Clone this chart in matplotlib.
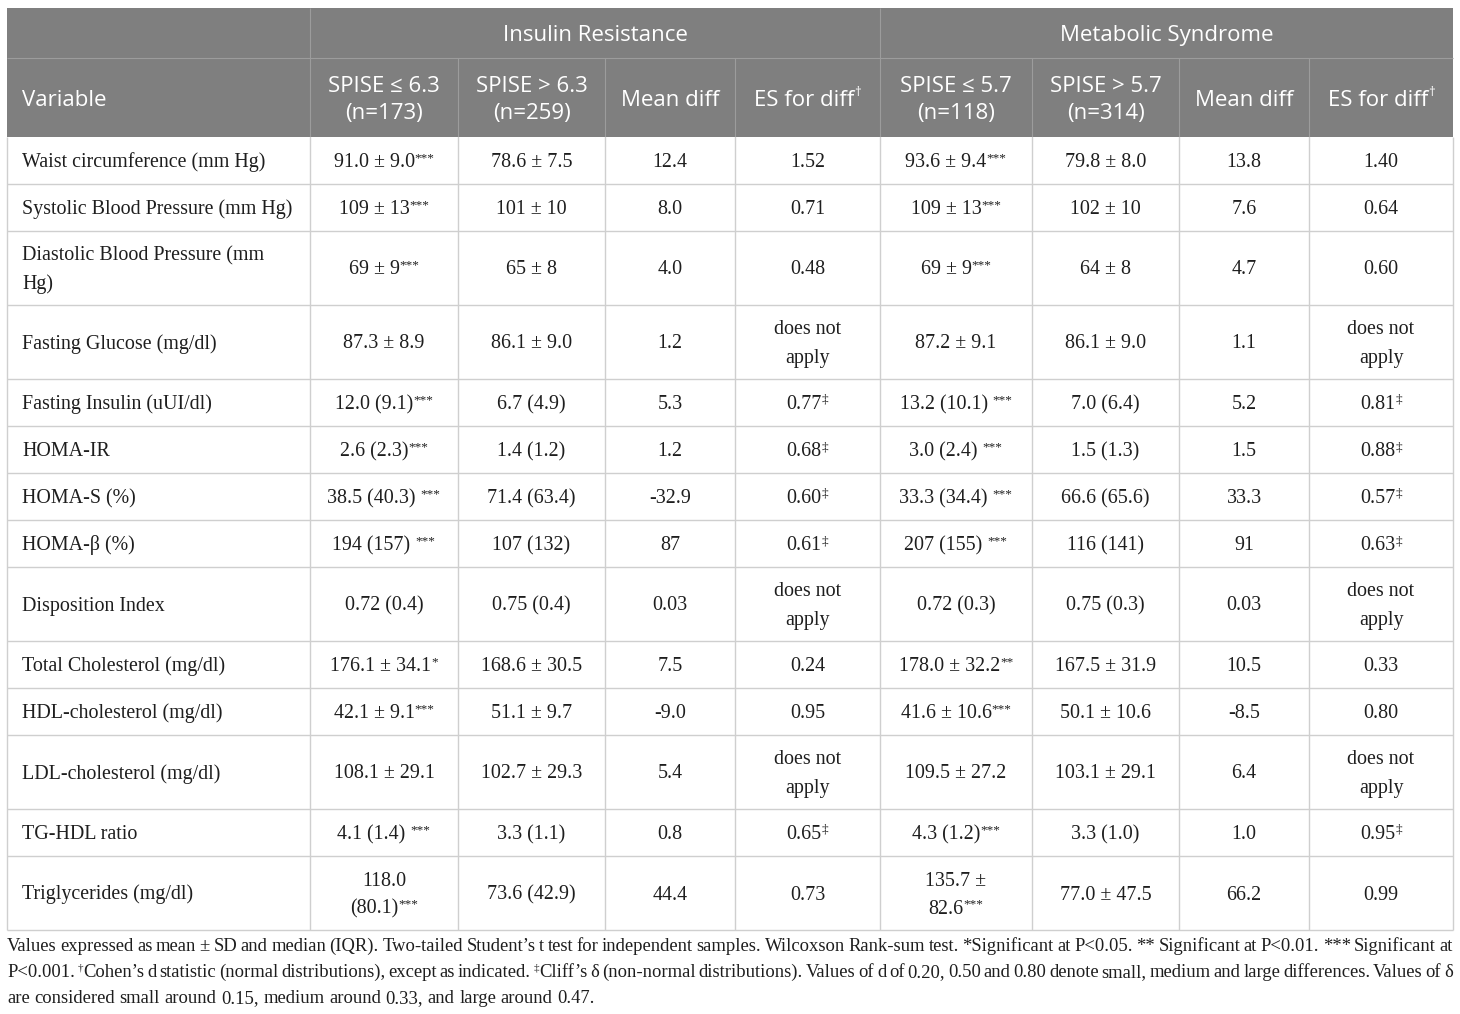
import re
import matplotlib.pyplot as plt

# ---- data ----
group_labels = ['Insulin Resistance', 'Metabolic Syndrome']
col_headers = ['Variable', 'SPISE ≤ 6.3\n(n=173)', 'SPISE > 6.3\n(n=259)', 'Mean diff', 'ES for diff†',
               'SPISE ≤ 5.7\n(n=118)', 'SPISE > 5.7\n(n=314)', 'Mean diff', 'ES for diff†']

variables = ['Waist circumference (mm Hg)', 'Systolic Blood Pressure (mm Hg)',
             'Diastolic Blood Pressure (mm\nHg)', 'Fasting Glucose (mg/dl)', 'Fasting Insulin (uUI/dl)',
             'HOMA-IR', 'HOMA-S (%)', 'HOMA-β (%)', 'Disposition Index', 'Total Cholesterol (mg/dl)',
             'HDL-cholesterol (mg/dl)', 'LDL-cholesterol (mg/dl)', 'TG-HDL ratio', 'Triglycerides (mg/dl)']

ir_low = ['91.0 ± 9.0***', '109 ± 13***', '69 ± 9***', '87.3 ± 8.9', '12.0 (9.1)***', '2.6 (2.3)***',
          '38.5 (40.3) ***', '194 (157) ***', '0.72 (0.4)', '176.1 ± 34.1*', '42.1 ± 9.1***',
          '108.1 ± 29.1', '4.1 (1.4) ***', '118.0\n(80.1)***']
ir_high = ['78.6 ± 7.5', '101 ± 10', '65 ± 8', '86.1 ± 9.0', '6.7 (4.9)', '1.4 (1.2)', '71.4 (63.4)',
           '107 (132)', '0.75 (0.4)', '168.6 ± 30.5', '51.1 ± 9.7', '102.7 ± 29.3', '3.3 (1.1)', '73.6 (42.9)']
ir_diff = ['12.4', '8.0', '4.0', '1.2', '5.3', '1.2', '-32.9', '87', '0.03', '7.5', '-9.0', '5.4', '0.8', '44.4']
ir_es = ['1.52', '0.71', '0.48', 'does not\napply', '0.77‡', '0.68‡', '0.60‡', '0.61‡', 'does not\napply',
         '0.24', '0.95', 'does not\napply', '0.65‡', '0.73']

ms_low = ['93.6 ± 9.4***', '109 ± 13***', '69 ± 9***', '87.2 ± 9.1', '13.2 (10.1) ***', '3.0 (2.4) ***',
          '33.3 (34.4) ***', '207 (155) ***', '0.72 (0.3)', '178.0 ± 32.2**', '41.6 ± 10.6***',
          '109.5 ± 27.2', '4.3 (1.2)***', '135.7 ±\n82.6***']
ms_high = ['79.8 ± 8.0', '102 ± 10', '64 ± 8', '86.1 ± 9.0', '7.0 (6.4)', '1.5 (1.3)', '66.6 (65.6)',
           '116 (141)', '0.75 (0.3)', '167.5 ± 31.9', '50.1 ± 10.6', '103.1 ± 29.1', '3.3 (1.0)', '77.0 ± 47.5']
ms_diff = ['13.8', '7.6', '4.7', '1.1', '5.2', '1.5', '33.3', '91', '0.03', '10.5', '-8.5', '6.4', '1.0', '66.2']
ms_es = ['1.40', '0.64', '0.60', 'does not\napply', '0.81‡', '0.88‡', '0.57‡', '0.63‡', 'does not\napply',
         '0.33', '0.80', 'does not\napply', '0.95‡', '0.99']

footnote = [
    'Values expressed as mean ± SD and median (IQR). Two-tailed Student’s t test for independent samples. '
    'Wilcoxson Rank-sum test. *Significant at P<0.05. ** Significant at P<0.01. *** Significant at',
    'P<0.001. †Cohen’s d statistic (normal distributions), except as indicated. ‡Cliff’s δ (non-normal '
    'distributions). Values of d of 0.20, 0.50 and 0.80 denote small, medium and large differences. Values of δ',
    'are considered small around 0.15, medium around 0.33, and large around 0.47.',
]

columns = [variables, ir_low, ir_high, ir_diff, ir_es, ms_low, ms_high, ms_diff, ms_es]

# ---- layout ----
W, H = 1460, 1014
col_x = [7, 310, 458, 605, 735, 880, 1032, 1179, 1309, 1453]
head_top, head_mid, head_bot = 8, 58, 137
row_h1, row_h2 = 47, 74

HEAD_BG = '#7f7f7f'
HEAD_LINE = '#9c9c9c'
GRID = '#cfcfcf'
TXT = '#1e1e1e'
SERIF = 'Liberation Serif'
SANS = 'Open Sans'

fig = plt.figure(figsize=(W / 100, H / 100), dpi=100)
ax = fig.add_axes([0, 0, 1, 1])
ax.set_xlim(0, W)
ax.set_ylim(H, 0)
ax.axis('off')
renderer = fig.canvas.get_renderer()


def measure(s, family, size):
    if s == ' ':
        return measure('a a', family, size) - measure('aa', family, size)
    t = ax.text(0, 0, s, family=family, fontsize=size)
    w = t.get_window_extent(renderer).width
    t.remove()
    return w


def draw_parts(x, y, parts, ha, family, size, color, sup_size, sup_rise):
    # parts: list of (text, is_sup); y is baseline
    widths = [measure(p, family, sup_size if sup else size) for p, sup in parts]
    total = sum(widths)
    if ha == 'center':
        x = x - total / 2
    for (p, sup), w in zip(parts, widths):
        if p.strip():
            ax.text(x, y - (sup_rise if sup else 0), p, family=family,
                    fontsize=sup_size if sup else size, color=color, ha='left', va='baseline')
        x += w
    return total


def cell_parts(line):
    m = re.match(r'^(.*?)(\s?)([*†‡]*)$', line)
    parts = [(m.group(1), False)]
    if m.group(2):
        parts.append((' ', False))
    if m.group(3):
        parts.append((m.group(3), True))
    return parts


# header background
ax.add_patch(plt.Rectangle((col_x[0], head_top), col_x[-1] - col_x[0], head_bot - head_top,
                           facecolor=HEAD_BG, edgecolor='none'))
ax.hlines(head_mid, col_x[0], col_x[-1], color=HEAD_LINE, lw=0.8)
for x in (col_x[1], col_x[5]):
    ax.vlines(x, head_top, head_bot, color=HEAD_LINE, lw=0.8)
for x in col_x[2:5] + col_x[6:9]:
    ax.vlines(x, head_mid, head_bot, color=HEAD_LINE, lw=0.8)

hsize = 16.0
for i, lab in enumerate(group_labels):
    xc = (col_x[1 + 4 * i] + col_x[5 + 4 * i]) / 2
    ax.text(xc, (head_top + head_mid) / 2 + 8, lab, family=SANS, fontsize=hsize,
            color='white', ha='center', va='baseline')

for j, lab in enumerate(col_headers):
    lines = lab.split('\n')
    yc = (head_mid + head_bot) / 2
    for k, ln in enumerate(lines):
        yb = yc + 8 + (k - (len(lines) - 1) / 2) * 27
        if j == 0:
            draw_parts(col_x[0] + 15, yb, cell_parts(ln), 'left', SANS, hsize, 'white', 9.5, 9)
        else:
            draw_parts((col_x[j] + col_x[j + 1]) / 2, yb, cell_parts(ln), 'center',
                       SANS, hsize, 'white', 9.5, 9)

# body
bsize = 14.4
y = head_bot
row_edges = [y]
for r in range(len(variables)):
    nlines = max(len(col[r].split('\n')) for col in columns)
    h = row_h2 if nlines > 1 else row_h1
    yc = y + h / 2
    for j, col in enumerate(columns):
        lines = col[r].split('\n')
        for k, ln in enumerate(lines):
            yb = yc + 6.5 + (k - (len(lines) - 1) / 2) * 28
            if j == 0:
                draw_parts(col_x[0] + 15, yb, cell_parts(ln), 'left', SERIF, bsize, TXT, 9.5, 6)
            else:
                draw_parts((col_x[j] + col_x[j + 1]) / 2, yb, cell_parts(ln), 'center',
                           SERIF, bsize, TXT, 9.5, 6)
    y += h
    row_edges.append(y)

for ye in row_edges[1:]:
    ax.hlines(ye, col_x[0], col_x[-1], color=GRID, lw=1.0)
for x in col_x:
    ax.vlines(x, head_bot, row_edges[-1], color=GRID, lw=1.0)

# footnote
fsize = 13.4
fx0, fx1 = 7, 1453
for i, line in enumerate(footnote):
    yb = 951 + i * 26
    words = []
    for w in line.split(' '):
        m = re.match(r'^([†‡]?)(.*)$', w)
        parts = []
        if m.group(1):
            parts.append((m.group(1), True))
        parts.append((m.group(2), False))
        words.append(parts)
    widths = [sum(measure(p, SERIF, 8.0 if s else fsize) for p, s in parts) for parts in words]
    if i < len(footnote) - 1:
        gap = (fx1 - fx0 - sum(widths)) / (len(words) - 1)
    else:
        gap = measure(' ', SERIF, fsize)
    x = fx0
    for parts, w in zip(words, widths):
        draw_parts(x, yb, parts, 'left', SERIF, fsize, TXT, 8.0, 6)
        x += w + gap

fig.savefig('out.png', dpi=100, facecolor='white')
